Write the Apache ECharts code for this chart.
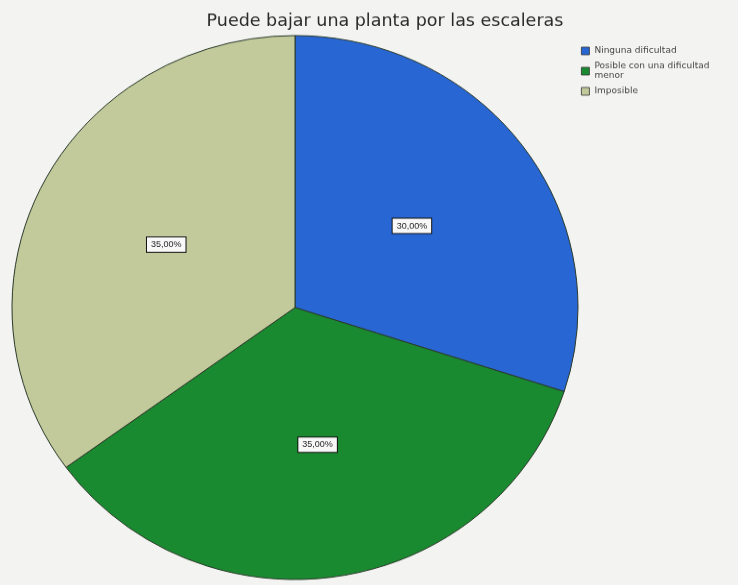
<!DOCTYPE html>
<html><head><meta charset="utf-8">
<script src="https://cdn.jsdelivr.net/npm/echarts@6/dist/echarts.min.js"></script>
<style>html,body{margin:0;padding:0;background:#f3f3f1;overflow:hidden}#c{width:738px;height:609px;transform:scaleY(0.961);transform-origin:0 0}</style>
</head><body><div id="c"></div>
<script>
const titleText = 'Puede bajar una planta por las escaleras';
const categories = ['Ninguna dificultad', 'Posible con una dificultad\nmenor', 'Imposible'];
const values = [30, 35, 35];
const labels = ['30,00%', '35,00%', '35,00%'];
const colors = ['#2866d3', '#1a8a30', '#c2ca9b'];

const chart = echarts.init(document.getElementById('c'));
chart.setOption({
  backgroundColor: '#f3f3f1',
  animation: false,
  title: {
    text: titleText, left: 380, top: 8, textAlign: 'center',
    textStyle: {fontFamily: 'DejaVu Sans', fontSize: 17.5, fontWeight: 'normal', color: '#2a2a2a'}
  },
  legend: {
    orient: 'vertical', left: 576, top: 43, itemWidth: 8, itemHeight: 8, itemGap: 6,
    icon: 'rect',
    data: categories,
    textStyle: {fontFamily: 'DejaVu Sans', fontSize: 9, color: '#444', lineHeight: 10},
    itemStyle: {borderColor: '#333', borderWidth: 0.8}
  },
  series: [{
    type: 'pie',
    center: [295, 320],
    radius: [0, 283],
    startAngle: 90,
    clockwise: true,
    itemStyle: {borderColor: '#2a3a2a', borderWidth: 1},
    label: {
      show: true, position: 'inside',
      formatter: p => labels[p.dataIndex],
      fontFamily: 'Liberation Sans', fontSize: 9, color: '#222',
      backgroundColor: '#f8f8f8', borderColor: '#111', borderWidth: 1, padding: [3, 4]
    },
    labelLine: {show: false},
    data: categories.map((c, i) => ({name: c, value: values[i], itemStyle: {color: colors[i]}}))
  }]
});
</script></body></html>
